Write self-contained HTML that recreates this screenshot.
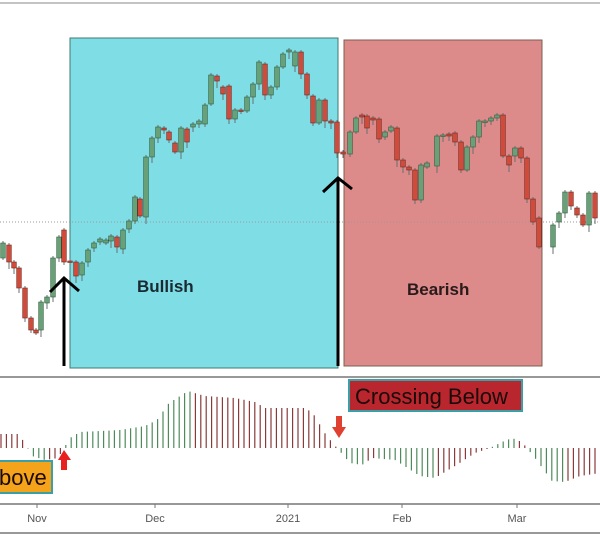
<!DOCTYPE html>
<html><head><meta charset="utf-8"><style>
html,body{margin:0;padding:0;background:#fff;}
svg{display:block;font-family:"Liberation Sans","DejaVu Sans",sans-serif;}
</style></head><body>
<svg id="s" width="600" height="537" viewBox="0 0 600 537" xmlns="http://www.w3.org/2000/svg">
<rect width="600" height="537" fill="#fff"/>
<line x1="0" y1="3" x2="600" y2="3" stroke="#888" stroke-width="1"/>
<rect x="70" y="38" width="268" height="330" fill="#7fdde6" stroke="#3f7a70" stroke-width="1"/>
<rect x="344" y="40" width="198" height="326" fill="#dc8a8a" stroke="#7a6050" stroke-width="1"/>
<line x1="0" y1="222" x2="600" y2="222" stroke="#999" stroke-width="1" stroke-dasharray="1,2"/>
<g id="candles"></g>
<text x="137" y="292" font-size="17" font-weight="bold" fill="#1a2a30">Bullish</text>
<text x="407" y="295" font-size="17" font-weight="bold" fill="#2a1a1a">Bearish</text>
<g stroke="#000" stroke-width="3" fill="none">
<line x1="64" y1="278" x2="64" y2="366"/><polyline points="50,292 64,278 79,291"/>
<line x1="338" y1="178" x2="338" y2="366"/><polyline points="323,192 338,178 352,189"/>
</g>
<line x1="0" y1="377" x2="600" y2="377" stroke="#777" stroke-width="1.5"/>
<g id="hist"></g>
<rect x="349" y="380" width="173" height="31" fill="#b9262d" stroke="#3aa0a8" stroke-width="2"/>
<text x="355" y="404" font-size="22" fill="#1a0a0a">Crossing Below</text>
<rect x="-2" y="461" width="54" height="32" fill="#f5a31a" stroke="#3aa0a8" stroke-width="2"/>
<text x="-1" y="485" font-size="22" fill="#1a0a0a">bove</text>
<polygon points="58,460 64,450 71,460 67,460 67,470 61,470 61,460" fill="#e82020"/>
<polygon points="332,427 336,427 336,416 342,416 342,427 346,427 339,438" fill="#e04030"/>
<line x1="0" y1="504" x2="600" y2="504" stroke="#777" stroke-width="1.5"/>
<g stroke="#777"><line x1="37" y1="504" x2="37" y2="508"/><line x1="155" y1="504" x2="155" y2="508"/><line x1="288" y1="504" x2="288" y2="508"/><line x1="402" y1="504" x2="402" y2="508"/><line x1="517" y1="504" x2="517" y2="508"/></g>
<g font-size="11" fill="#555" text-anchor="middle">
<text x="37" y="522">Nov</text><text x="155" y="522">Dec</text><text x="288" y="522">2021</text><text x="402" y="522">Feb</text><text x="517" y="522">Mar</text>
</g>
<line x1="0" y1="533" x2="600" y2="533" stroke="#777" stroke-width="1.5"/>
</svg>
<script>
var C=[[3,258,243],[9,245,262],[14,262,268],[19,268,288],[25,288,318],[31,318,330],[36,330,333],[41,330,302],[47,303,297],[53,297,258],[59,258,237],[64,230,262],[70,261,262],[76,262,276],[82,275,263],[88,262,250],[94,248,243],[100,242,239],[106,243,240],[111,241,236],[117,237,247],[123,249,230],[129,229,221],[135,221,197],[140,199,216],[146,217,157],[152,157,138],[158,138,127],[164,128,130],[169,132,140],[175,143,152],[181,152,128],[187,129,142],[193,127,124],[199,124,121],[205,124,105],[211,104,75],[217,76,81],[223,87,94],[229,86,119],[235,119,110],[241,110,111],[247,111,97],[253,97,84],[259,84,62],[265,64,95],[271,95,87],[277,87,67],[283,67,54],[289,52,50],[295,66,52],[301,52,74],[307,74,95],[313,96,123],[319,123,100],[325,100,121],[331,121,123],[337,122,153],[343,152,154],[350,154,132],[356,132,118],[362,115,117],[367,116,128],[373,118,120],[379,119,139],[385,137,132],[391,131,127],[397,128,160],[403,160,167],[409,167,170],[415,170,200],[421,200,165],[427,167,163],[437,166,136],[443,136,135],[449,134,136],[455,133,142],[461,142,170],[467,170,147],[473,147,137],[479,137,121],[485,122,121],[491,121,118],[497,118,115],[503,115,156],[509,156,165],[515,156,148],[521,148,158],[527,158,199],[533,199,222],[539,218,247],[553,247,225],[559,222,213],[565,213,192],[571,192,206],[577,208,215],[583,215,225],[589,225,193],[595,193,218]];
var g='',i;
for(i=0;i<C.length;i++){var c=C[i],x=c[0],o=c[1],cl=c[2],t=Math.min(o,cl),b=Math.max(o,cl),up=cl<o;
var col=up?'#68a078':'#d24a3a',st=up?'#2f5a3a':'#6a2a20';
var w1=2+((i*7)%7),w2=2+((i*5)%6);
g+='<line x1="'+x+'" y1="'+(t-w1)+'" x2="'+x+'" y2="'+(b+w2)+'" stroke="#6a7070" stroke-width="1"/>';
g+='<rect x="'+(x-2.3)+'" y="'+t+'" width="4.6" height="'+Math.max(b-t,1.5)+'" fill="'+col+'" stroke="'+st+'" stroke-width="0.6"/>';}
document.getElementById('candles').innerHTML=g;
var K=[[0,-14],[18,-14],[25,-5],[32,8],[45,12],[58,10],[64,0],[70,-10],[80,-16],[120,-18],[145,-22],[157,-28],[169,-45],[188,-57],[205,-52],[235,-50],[255,-46],[265,-40],[306,-40],[314,-33],[326,-13],[337,0],[350,15],[362,17],[372,10],[395,12],[420,28],[435,30],[455,18],[475,5],[490,0],[502,-6],[512,-10],[522,-6],[535,10],[552,33],[565,34],[580,28],[600,25]];
function v(x){for(var j=1;j<K.length;j++){if(x<=K[j][0]){var a=K[j-1],b=K[j];return a[1]+(b[1]-a[1])*(x-a[0])/(b[0]-a[0]);}}return 25;}
var h='',z=448;
for(var x=1;x<600;x+=5.4){var y=v(x),prev=v(x-5.4),col=((y<prev)==(y<0))?'#4f8a5c':'#8a3a3a';
h+='<line x1="'+x.toFixed(1)+'" y1="'+z+'" x2="'+x.toFixed(1)+'" y2="'+(z+y).toFixed(1)+'" stroke="'+col+'" stroke-width="1.2"/>';}
document.getElementById('hist').innerHTML=h;
</script>
</body></html>
